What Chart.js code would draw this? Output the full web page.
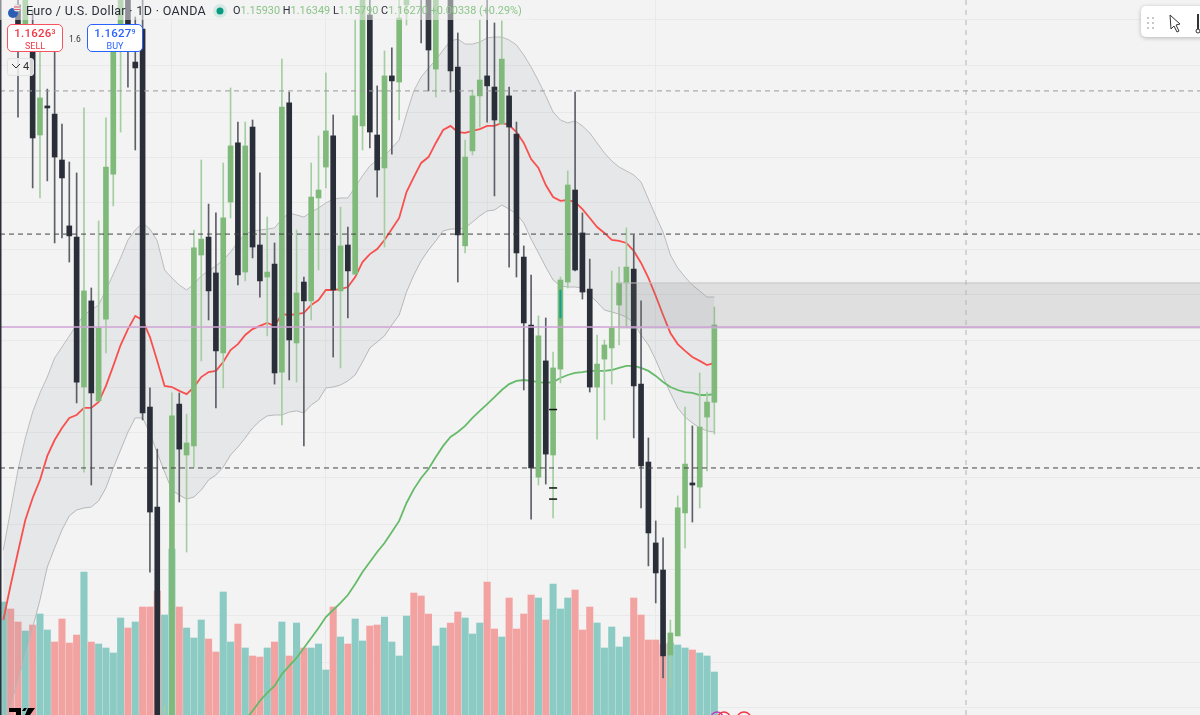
<!DOCTYPE html>
<html>
<head>
<meta charset="utf-8">
<title>EUR/USD 1D</title>
<script src="https://cdn.jsdelivr.net/npm/chart.js@4/dist/chart.umd.min.js"></script>
<style>
html,body{margin:0;padding:0;background:#f3f3f3;overflow:hidden}
#wrap{position:relative;width:1200px;height:715px;overflow:hidden;font-family:Roboto,sans-serif}
canvas{position:absolute;left:0;top:0}
.abs{position:absolute}
#legendBg{left:0;top:0;width:530px;height:20px;background:rgba(243,243,243,.5)}
#title{left:26px;top:3px;font-size:12.5px;letter-spacing:.32px;color:#2a2e39;white-space:nowrap}
#ohlc{left:233px;top:4px;font-size:10.9px;color:#8cc58a;white-space:nowrap}
#ohlc b{font-weight:400;color:#2a2e39}
.trade{top:24px;width:54px;height:26px;background:#fff;border-radius:5px;text-align:center;line-height:1}
.trade .p{font-size:11.5px;font-weight:500;margin-top:3px;letter-spacing:.2px}
.trade .p sup{font-size:7px;vertical-align:3px;line-height:0}
.trade .s{font-size:9px;margin-top:2px}
#sell{left:7px;border:1px solid #f7525f;color:#f23645}
#buy{left:87px;border:1px solid #2962ff;color:#2962ff}
#spread{left:69px;top:34px;font-size:8.5px;color:#333}
#collapse{left:7px;top:58px;width:25px;height:16px;border:1px solid #e2e2e2;border-radius:3px;background:rgba(243,243,243,.85);font-size:11px;color:#333;line-height:16px}
#toolbar{left:1141px;top:6px;width:65px;height:31px;background:#fff;border-radius:5px;box-shadow:0 1px 4px rgba(0,0,0,.25)}
</style>
</head>
<body>
<div id="wrap">
<canvas id="chart" width="1200" height="715"></canvas>
<div class="abs" id="legendBg"></div>
<svg class="abs" style="left:1px;top:2px" width="22" height="20">
  <circle cx="12" cy="11" r="5" fill="#2b5db5"/>
  <circle cx="16" cy="6" r="3.5" fill="#e8e8ee"/>
  <path d="M13 5h6M13 7.5h6" stroke="#e0575f" stroke-width="1"/>
</svg>
<div class="abs" id="title">Euro / U.S. Dollar · 1D · OANDA</div>
<svg class="abs" style="left:213px;top:4px" width="16" height="16">
  <circle cx="7" cy="7" r="7" fill="#d5e9e4"/>
  <circle cx="7" cy="7" r="3.5" fill="#089981"/>
</svg>
<div class="abs" id="ohlc"><b>O</b>1.15930 <b>H</b>1.16349 <b>L</b>1.15790 <b>C</b>1.16270 +0.00338 (+0.29%)</div>
<div class="abs trade" id="sell"><div class="p">1.1626<sup>3</sup></div><div class="s">SELL</div></div>
<div class="abs" id="spread">1.6</div>
<div class="abs trade" id="buy"><div class="p">1.1627<sup>9</sup></div><div class="s">BUY</div></div>
<div class="abs" id="collapse"><svg width="10" height="8" style="margin:0 2px 0 3px"><path d="M1 2l4 4 4-4" fill="none" stroke="#333" stroke-width="1"/></svg>4</div>
<div class="abs" id="toolbar">
  <svg width="65" height="31">
    <g fill="#c8c8c8"><rect x="6" y="11" width="2" height="2"/><rect x="11" y="11" width="2" height="2"/><rect x="6" y="16" width="2" height="2"/><rect x="11" y="16" width="2" height="2"/><rect x="6" y="21" width="2" height="2"/><rect x="11" y="21" width="2" height="2"/></g>
    <path d="M29 9l10 9-4 1 3 6-2 1-3-6-3 3z" fill="#fff" stroke="#333" stroke-width="1"/>
    <path d="M57 8v18" stroke="#333" stroke-width="2"/>
    <circle cx="57" cy="25" r="2" fill="#fff" stroke="#333"/>
  </svg>
</div>
<svg class="abs" style="left:0;top:700px" width="780" height="15">
  <path d="M9 8h12v7h-5v-3h-7zM24 8h3l-2 3h-3zM28 8h7l-5 7h-5z" fill="#000"/>
  <circle cx="717" cy="18" r="6" fill="none" stroke="#c040c0" stroke-width="1.5"/>
  <circle cx="724" cy="18" r="6" fill="none" stroke="#f23645" stroke-width="1.5"/>
  <circle cx="744" cy="19" r="7" fill="none" stroke="#f23645" stroke-width="1.5"/>
</svg>
</div>

<script>
// OHLC, one entry per daily bar
const opens = [1.17788,1.17832,1.17678,1.17502,1.17524,1.17106,1.17225,1.17198,1.16996,1.16706,1.16657,1.15997,1.16376,1.15936,1.16296,1.16934,1.17524,1.17744,1.17427,1.17572,1.15909,1.15469,1.14356,1.14356,1.15922,1.15698,1.15738,1.16578,1.16657,1.16499,1.16147,1.16811,1.17071,1.16503,1.17141,1.16622,1.16481,1.16538,1.16063,1.17247,1.16191,1.16459,1.16376,1.16829,1.16965,1.17102,1.16420,1.16622,1.16494,1.17146,1.17634,1.17106,1.16961,1.17366,1.17339,1.17678,1.17964,1.17964,1.17788,1.17396,1.17744,1.17744,1.17405,1.16618,1.17036,1.17278,1.17366,1.17317,1.17154,1.17278,1.17110,1.16569,1.16270,1.15601,1.16112,1.15698,1.16076,1.16459,1.16864,1.16675,1.16428,1.15997,1.16120,1.16169,1.16358,1.16455,1.16516,1.16010,1.15667,1.15311,1.15192,1.14818,1.14902,1.15443,1.15575,1.15557,1.15865,1.15930];
const highs = [1.17876,1.17876,1.17744,1.17832,1.17656,1.17502,1.17308,1.17480,1.17154,1.16987,1.16939,1.17225,1.16433,1.16728,1.17181,1.17568,1.17788,1.17788,1.17625,1.17744,1.15993,1.15724,1.14594,1.15971,1.15971,1.15878,1.16688,1.16996,1.16802,1.16763,1.16983,1.17313,1.17163,1.17163,1.17172,1.16939,1.16745,1.16631,1.17440,1.17295,1.16688,1.16481,1.16983,1.17102,1.17379,1.17194,1.16789,1.16701,1.17612,1.17766,1.17700,1.17322,1.17476,1.17489,1.17700,1.17876,1.18052,1.18008,1.17876,1.17832,1.17876,1.17788,1.17555,1.17084,1.17304,1.17612,1.17744,1.17599,1.17608,1.17317,1.17163,1.16618,1.16490,1.16310,1.16301,1.16151,1.16481,1.16948,1.17295,1.16763,1.16560,1.16226,1.16204,1.16508,1.16525,1.16697,1.16666,1.16376,1.15773,1.15408,1.15333,1.14972,1.15518,1.15909,1.15826,1.16059,1.15975,1.16349];
const lows = [1.17722,1.17722,1.17185,1.17480,1.16873,1.16829,1.16904,1.16631,1.16653,1.16547,1.15927,1.15623,1.15566,1.15936,1.16147,1.16794,1.17119,1.17317,1.17040,1.15852,1.15183,1.14268,1.14268,1.14268,1.15491,1.15271,1.15645,1.16112,1.16292,1.15905,1.15993,1.16741,1.16446,1.16464,1.16565,1.16393,1.16222,1.16010,1.15830,1.16028,1.16019,1.15738,1.16292,1.16512,1.16873,1.16129,1.16081,1.16301,1.16494,1.17040,1.17049,1.16833,1.16613,1.17022,1.17172,1.17590,1.17722,1.17511,1.17300,1.17273,1.17713,1.17295,1.16459,1.16587,1.17018,1.17141,1.17163,1.16838,1.17154,1.16525,1.16481,1.15984,1.15416,1.15566,1.15570,1.15421,1.16015,1.16433,1.16508,1.16384,1.15975,1.15768,1.15852,1.16010,1.16182,1.16261,1.15773,1.15465,1.15210,1.15047,1.14717,1.14677,1.14902,1.15289,1.15403,1.15465,1.15628,1.15790];
const closes = [1.17832,1.17744,1.17524,1.17744,1.17093,1.17269,1.17225,1.17009,1.16917,1.16662,1.16019,1.16420,1.15971,1.16257,1.16965,1.17524,1.17722,1.17524,1.17401,1.15883,1.15447,1.14356,1.14510,1.15870,1.15724,1.15751,1.16609,1.16648,1.16420,1.16156,1.16741,1.17058,1.16490,1.17058,1.16613,1.16464,1.16503,1.16059,1.17229,1.16204,1.16411,1.16376,1.16833,1.16864,1.17124,1.16424,1.16618,1.16508,1.17190,1.17722,1.17119,1.16952,1.17366,1.17344,1.17621,1.17832,1.17788,1.17722,1.17480,1.17744,1.17832,1.17388,1.16666,1.17009,1.17278,1.17348,1.17322,1.17172,1.17440,1.17141,1.16587,1.16279,1.15641,1.16222,1.15702,1.16081,1.16468,1.16886,1.16512,1.16415,1.15997,1.16098,1.16182,1.16257,1.16455,1.16525,1.16002,1.15650,1.15355,1.15179,1.14814,1.14915,1.15465,1.15658,1.15566,1.15821,1.15931,1.16270];

// Volume and its up/down flag (1 = teal, 0 = red)
const volumes = [113,106,93,84,90,101,85,73,96,72,80,143,73,71,67,62,97,87,93,108,108,124,100,166,108,87,77,95,76,63,123,73,91,67,59,58,67,73,93,59,92,67,67,71,45,108,78,71,96,74,89,90,98,73,59,99,122,119,101,69,87,92,103,97,81,92,133,86,78,117,86,101,120,117,95,131,106,117,125,85,108,92,67,88,68,78,117,100,75,75,71,72,70,67,65,62,59,43];
const volumeUp = [1,0,0,1,0,1,1,0,0,0,0,1,0,1,1,1,1,0,1,0,0,0,1,1,0,1,1,1,0,0,1,1,0,1,0,0,1,0,1,0,1,0,1,1,1,0,1,0,1,1,0,0,1,1,1,1,0,0,0,1,1,0,0,1,1,1,0,0,1,0,0,0,0,1,0,1,1,1,0,0,0,1,1,1,1,1,0,0,0,0,0,1,1,1,0,1,1,1];

// Indicators
const basis = [1.14972,1.15126,1.15271,1.15412,1.15509,1.15588,1.15694,1.15764,1.15817,1.15861,1.15874,1.15905,1.15905,1.15931,1.16002,1.16090,1.16182,1.16252,1.16310,1.16292,1.16217,1.16112,1.16002,1.15997,1.15980,1.15966,1.15997,1.16041,1.16063,1.16068,1.16107,1.16160,1.16186,1.16226,1.16252,1.16266,1.16279,1.16266,1.16318,1.16314,1.16318,1.16323,1.16358,1.16380,1.16424,1.16424,1.16428,1.16437,1.16481,1.16547,1.16582,1.16604,1.16644,1.16692,1.16741,1.16855,1.16921,1.16983,1.17009,1.17071,1.17128,1.17146,1.17119,1.17115,1.17124,1.17132,1.17146,1.17146,1.17159,1.17150,1.17119,1.17071,1.17000,1.16961,1.16886,1.16833,1.16816,1.16820,1.16811,1.16780,1.16741,1.16701,1.16675,1.16644,1.16640,1.16631,1.16596,1.16543,1.16477,1.16398,1.16314,1.16235,1.16186,1.16156,1.16129,1.16112,1.16094,1.16103];
const upperBand = [1.15280,1.15456,1.15632,1.15773,1.15887,1.15971,1.16041,1.16125,1.16173,1.16222,1.16270,1.16314,1.16336,1.16358,1.16424,1.16494,1.16565,1.16644,1.16688,1.16719,1.16692,1.16640,1.16512,1.16477,1.16446,1.16424,1.16450,1.16486,1.16508,1.16530,1.16556,1.16591,1.16635,1.16670,1.16684,1.16688,1.16692,1.16697,1.16736,1.16763,1.16754,1.16745,1.16767,1.16785,1.16807,1.16824,1.16829,1.16829,1.16877,1.16926,1.16970,1.16996,1.17014,1.17049,1.17084,1.17198,1.17300,1.17361,1.17401,1.17436,1.17480,1.17520,1.17528,1.17506,1.17506,1.17515,1.17533,1.17537,1.17537,1.17524,1.17502,1.17458,1.17405,1.17344,1.17278,1.17207,1.17172,1.17159,1.17168,1.17146,1.17115,1.17071,1.17027,1.16992,1.16965,1.16948,1.16930,1.16899,1.16824,1.16750,1.16679,1.16578,1.16521,1.16481,1.16446,1.16420,1.16393,1.16393];
const lowerBand = [1.14356,1.14598,1.14708,1.14818,1.14937,1.15060,1.15205,1.15289,1.15368,1.15430,1.15456,1.15465,1.15469,1.15496,1.15553,1.15641,1.15720,1.15799,1.15861,1.15861,1.15795,1.15707,1.15623,1.15544,1.15522,1.15504,1.15513,1.15544,1.15588,1.15610,1.15645,1.15698,1.15733,1.15773,1.15817,1.15848,1.15870,1.15874,1.15874,1.15887,1.15892,1.15883,1.15918,1.15940,1.15993,1.15997,1.16006,1.16024,1.16050,1.16107,1.16169,1.16195,1.16222,1.16270,1.16314,1.16415,1.16490,1.16552,1.16600,1.16640,1.16684,1.16692,1.16692,1.16697,1.16723,1.16750,1.16772,1.16776,1.16798,1.16780,1.16758,1.16719,1.16648,1.16587,1.16525,1.16468,1.16442,1.16437,1.16437,1.16433,1.16402,1.16371,1.16336,1.16327,1.16318,1.16305,1.16279,1.16226,1.16182,1.16116,1.16041,1.15971,1.15905,1.15865,1.15839,1.15817,1.15804,1.15799];
const slowAvg = [null,null,null,null,null,null,null,null,null,null,null,null,null,null,null,null,null,null,null,null,null,null,null,null,null,null,null,null,null,null,null,null,null,1.14532,1.14572,1.14616,1.14651,1.14682,1.14734,1.14770,1.14805,1.14849,1.14893,1.14937,1.14985,1.15016,1.15047,1.15082,1.15130,1.15183,1.15227,1.15271,1.15311,1.15359,1.15408,1.15487,1.15548,1.15597,1.15636,1.15689,1.15738,1.15777,1.15799,1.15826,1.15861,1.15892,1.15922,1.15953,1.15984,1.16010,1.16024,1.16028,1.16024,1.16019,1.16015,1.16019,1.16037,1.16050,1.16059,1.16063,1.16068,1.16068,1.16068,1.16072,1.16081,1.16090,1.16090,1.16081,1.16068,1.16046,1.16019,1.15997,1.15984,1.15975,1.15971,1.15962,1.15962,1.15966];

// Drawn levels and the supply zone
const levelGrey = 1.17300;
const levelsDark = [1.16670,1.15641];
const levelPurple = 1.16261;
const zoneTop = 1.16455;
const zoneBottom = 1.16257;
const zoneStart = 83.85;
const crossBar = 131.33;
const tickMarks = [{x:75,y:1.15898},{x:75,y:1.15553},{x:75,y:1.15504}];
const tealMark = {x:76,y:[1.16301,1.16424]};

// Axes
const priceMin = 1.14554, priceMax = 1.17700;
const barMin = -0.454, barMax = 163.25;
const priceGrid = [1.17612,1.17410,1.17207,1.17009,1.16807,1.16604,1.16402,1.16200,1.15997,1.15799,1.15597,1.15394,1.15192,1.14990,1.14787,1.14585];
const timeGrid = [23,44,66,89];

const idx = opens.map((_,i)=>i);
const series = arr => arr.map((v,i)=>({x:i,y:v}));
const GREEN = '#7fba7a', DARK = '#2a2e39';
const isUp = i => closes[i] > opens[i];
const hline = (y,from) => [{x:from===undefined?barMin:from,y:y},{x:barMax,y:y}];
const lineDs = (data,color,width,order,extra) => Object.assign({type:'line',data,borderColor:color,borderWidth:width,pointRadius:0,tension:0,order,fill:false},extra||{});

const datasets = [
    // volume at the very bottom
    {type:'bar',yAxisID:'yVol',data:series(volumes),backgroundColor:idx.map(i=>volumeUp[i]?'#8ccbc4':'#f2a3a1'),barThickness:6.4,grouped:false,order:20},
    // bands, fill between the two
    lineDs(series(upperBand),'#bcbcbe',1,15,{fill:'+1',backgroundColor:'rgba(120,123,134,.1)'}),
    lineDs(series(lowerBand),'#bcbcbe',1,15),
    lineDs(series(slowAvg),'#66bb6a',1.8,12),
    lineDs(series(basis),'#f8504f',1.8,12),
    // wicks then bodies
    {type:'bar',data:idx.map(i=>({x:i,y:[lows[i],highs[i]]})),backgroundColor:idx.map(i=>isUp(i)?'#a4cea1':'#5c5f68'),barThickness:1,grouped:false,order:8},
    {type:'bar',data:idx.map(i=>({x:i,y:[opens[i],closes[i]]})),backgroundColor:idx.map(i=>isUp(i)?GREEN:DARK),barThickness:5,minBarLength:2,grouped:false,order:7},
    {type:'bar',data:[tealMark],backgroundColor:'#12a08f',barThickness:1.5,grouped:false,order:6},
    {type:'scatter',data:tickMarks,pointStyle:'line',pointRadius:4,borderColor:'#111',borderWidth:1.5,order:5},
    // zone over the candles
    lineDs(hline(zoneTop,zoneStart),'#c4c4c4',1,4,{fill:'+1',backgroundColor:'rgba(125,125,125,.17)'}),
    lineDs(hline(zoneBottom,zoneStart),'#c4c4c4',1,4),
    lineDs(hline(levelGrey),'#9a9a9a',1,3,{borderDash:[5,4]}),
    lineDs(hline(levelsDark[0]),'#444',1,3,{borderDash:[5,4]}),
    lineDs(hline(levelsDark[1]),'#444',1,3,{borderDash:[5,4]}),
    lineDs([{x:crossBar,y:priceMin},{x:crossBar,y:priceMax}],'#b4b4b4',1,3,{borderDash:[5,5]}),
    lineDs(hline(levelPurple),'#cfa3d6',1.4,2)
];

new Chart(document.getElementById('chart').getContext('2d'),{
    type:'bar',
    data:{datasets},
    options:{
        responsive:false,
        animation:false,
        layout:{padding:0,autoPadding:false},
        plugins:{legend:{display:false},tooltip:{enabled:false}},
        scales:{
            x:{type:'linear',min:barMin,max:barMax,offset:false,
               grid:{color:'#e9e9e9',drawTicks:false,offset:false},border:{display:false},ticks:{display:false},
               afterFit:s=>{s.height=0},
               afterBuildTicks:s=>{s.ticks=timeGrid.map(v=>({value:v}))}},
            y:{min:priceMin,max:priceMax,
               grid:{color:'#e9e9e9',drawTicks:false},border:{display:false},ticks:{display:false},
               afterFit:s=>{s.width=0},
               afterBuildTicks:s=>{s.ticks=priceGrid.map(v=>({value:v}))}},
            yVol:{min:0,max:715,display:false}
        }
    },
    plugins:[{id:'bg',beforeDraw(c){const g=c.ctx;g.save();g.fillStyle='#f3f3f3';g.fillRect(0,0,c.width,c.height);g.restore()},
              afterDraw(c){const g=c.ctx;g.save();g.fillStyle='#2a2e39';g.fillRect(0,0,1.5,c.height);g.restore()}}]
});
</script>
</body>
</html>
